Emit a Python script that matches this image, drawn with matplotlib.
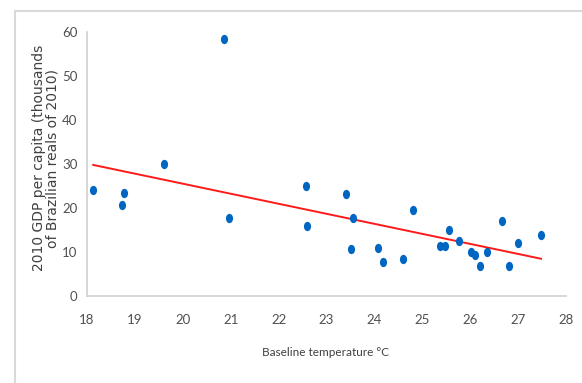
import numpy as np
import matplotlib
matplotlib.use("Agg")
import matplotlib.pyplot as plt
from matplotlib.path import Path
from matplotlib.markers import MarkerStyle
from matplotlib.patches import Rectangle

temperature = [18.13, 18.73, 18.77, 19.61, 20.85, 20.96, 22.57, 22.59, 23.41, 23.56,
               23.51, 24.08, 24.17, 24.60, 24.80, 25.37, 25.47, 25.56, 25.77, 26.02,
               26.09, 26.21, 26.35, 26.66, 26.80, 27.00, 27.48]
gdp = [24.0, 20.6, 23.4, 30.1, 58.4, 17.8, 25.1, 15.9, 23.1, 17.8,
       10.6, 11.0, 7.8, 8.3, 19.5, 11.4, 11.4, 14.9, 12.5, 10.0,
       9.3, 6.8, 9.9, 17.0, 6.8, 12.1, 13.9]
x_ticks = [18, 19, 20, 21, 22, 23, 24, 25, 26, 27, 28]
y_ticks = [0, 10, 20, 30, 40, 50, 60]

narrow = ['Lato', 'DejaVu Sans']

fig = plt.figure(figsize=(5.82, 3.83), dpi=100)
fig.patches.append(Rectangle((15 / 582, -0.1), 1.0, 1 - 11 / 383 + 0.1,
                             transform=fig.transFigure, fill=False,
                             edgecolor='#d9d9d9', linewidth=1.5, zorder=0))
ax = fig.add_axes([87 / 582, 1 - 296 / 383, 479 / 582, 264 / 383])

circ = Path.unit_circle()
ell = Path(circ.vertices * np.array([1.0, 1.3]), circ.codes)
ax.scatter(temperature, gdp, marker=MarkerStyle(ell), s=45, color='#0066C2',
           linewidths=0, zorder=3)

coef = np.polyfit(temperature, gdp, 1)
xs = np.array([min(temperature), max(temperature)])
ax.plot(xs, np.polyval(coef, xs), color='#FF1A1A', linewidth=1.4, zorder=2)

ax.set_xlim(18, 28)
ax.set_ylim(0, 60)
ax.set_xticks(x_ticks)
ax.set_yticks(y_ticks)
for lab in ax.get_xticklabels() + ax.get_yticklabels():
    lab.set_family(narrow)
    lab.set_fontsize(9.5)
    lab.set_color('#505050')
ax.tick_params(axis='both', length=0)
ax.tick_params(axis='x', pad=13)
ax.tick_params(axis='y', pad=7)
for s in ['top', 'right']:
    ax.spines[s].set_visible(False)
for s in ['left', 'bottom']:
    ax.spines[s].set_color('#d0d0d0')
    ax.spines[s].set_linewidth(1.2)

fig.text(325 / 582, 1 - 352 / 383, 'Baseline temperature \u00b0C', family=narrow,
         fontsize=8.5, color='#404040', ha='center', va='center')
fig.text(46 / 582, 1 - 158 / 383, '2010 GDP per capita (thousands\nof Brazilian reals of 2010)',
         family='DejaVu Sans', fontsize=10, color='#404040', rotation=90,
         ha='center', va='center', linespacing=1.0, multialignment='center')

fig.savefig('out.png', dpi=100)
